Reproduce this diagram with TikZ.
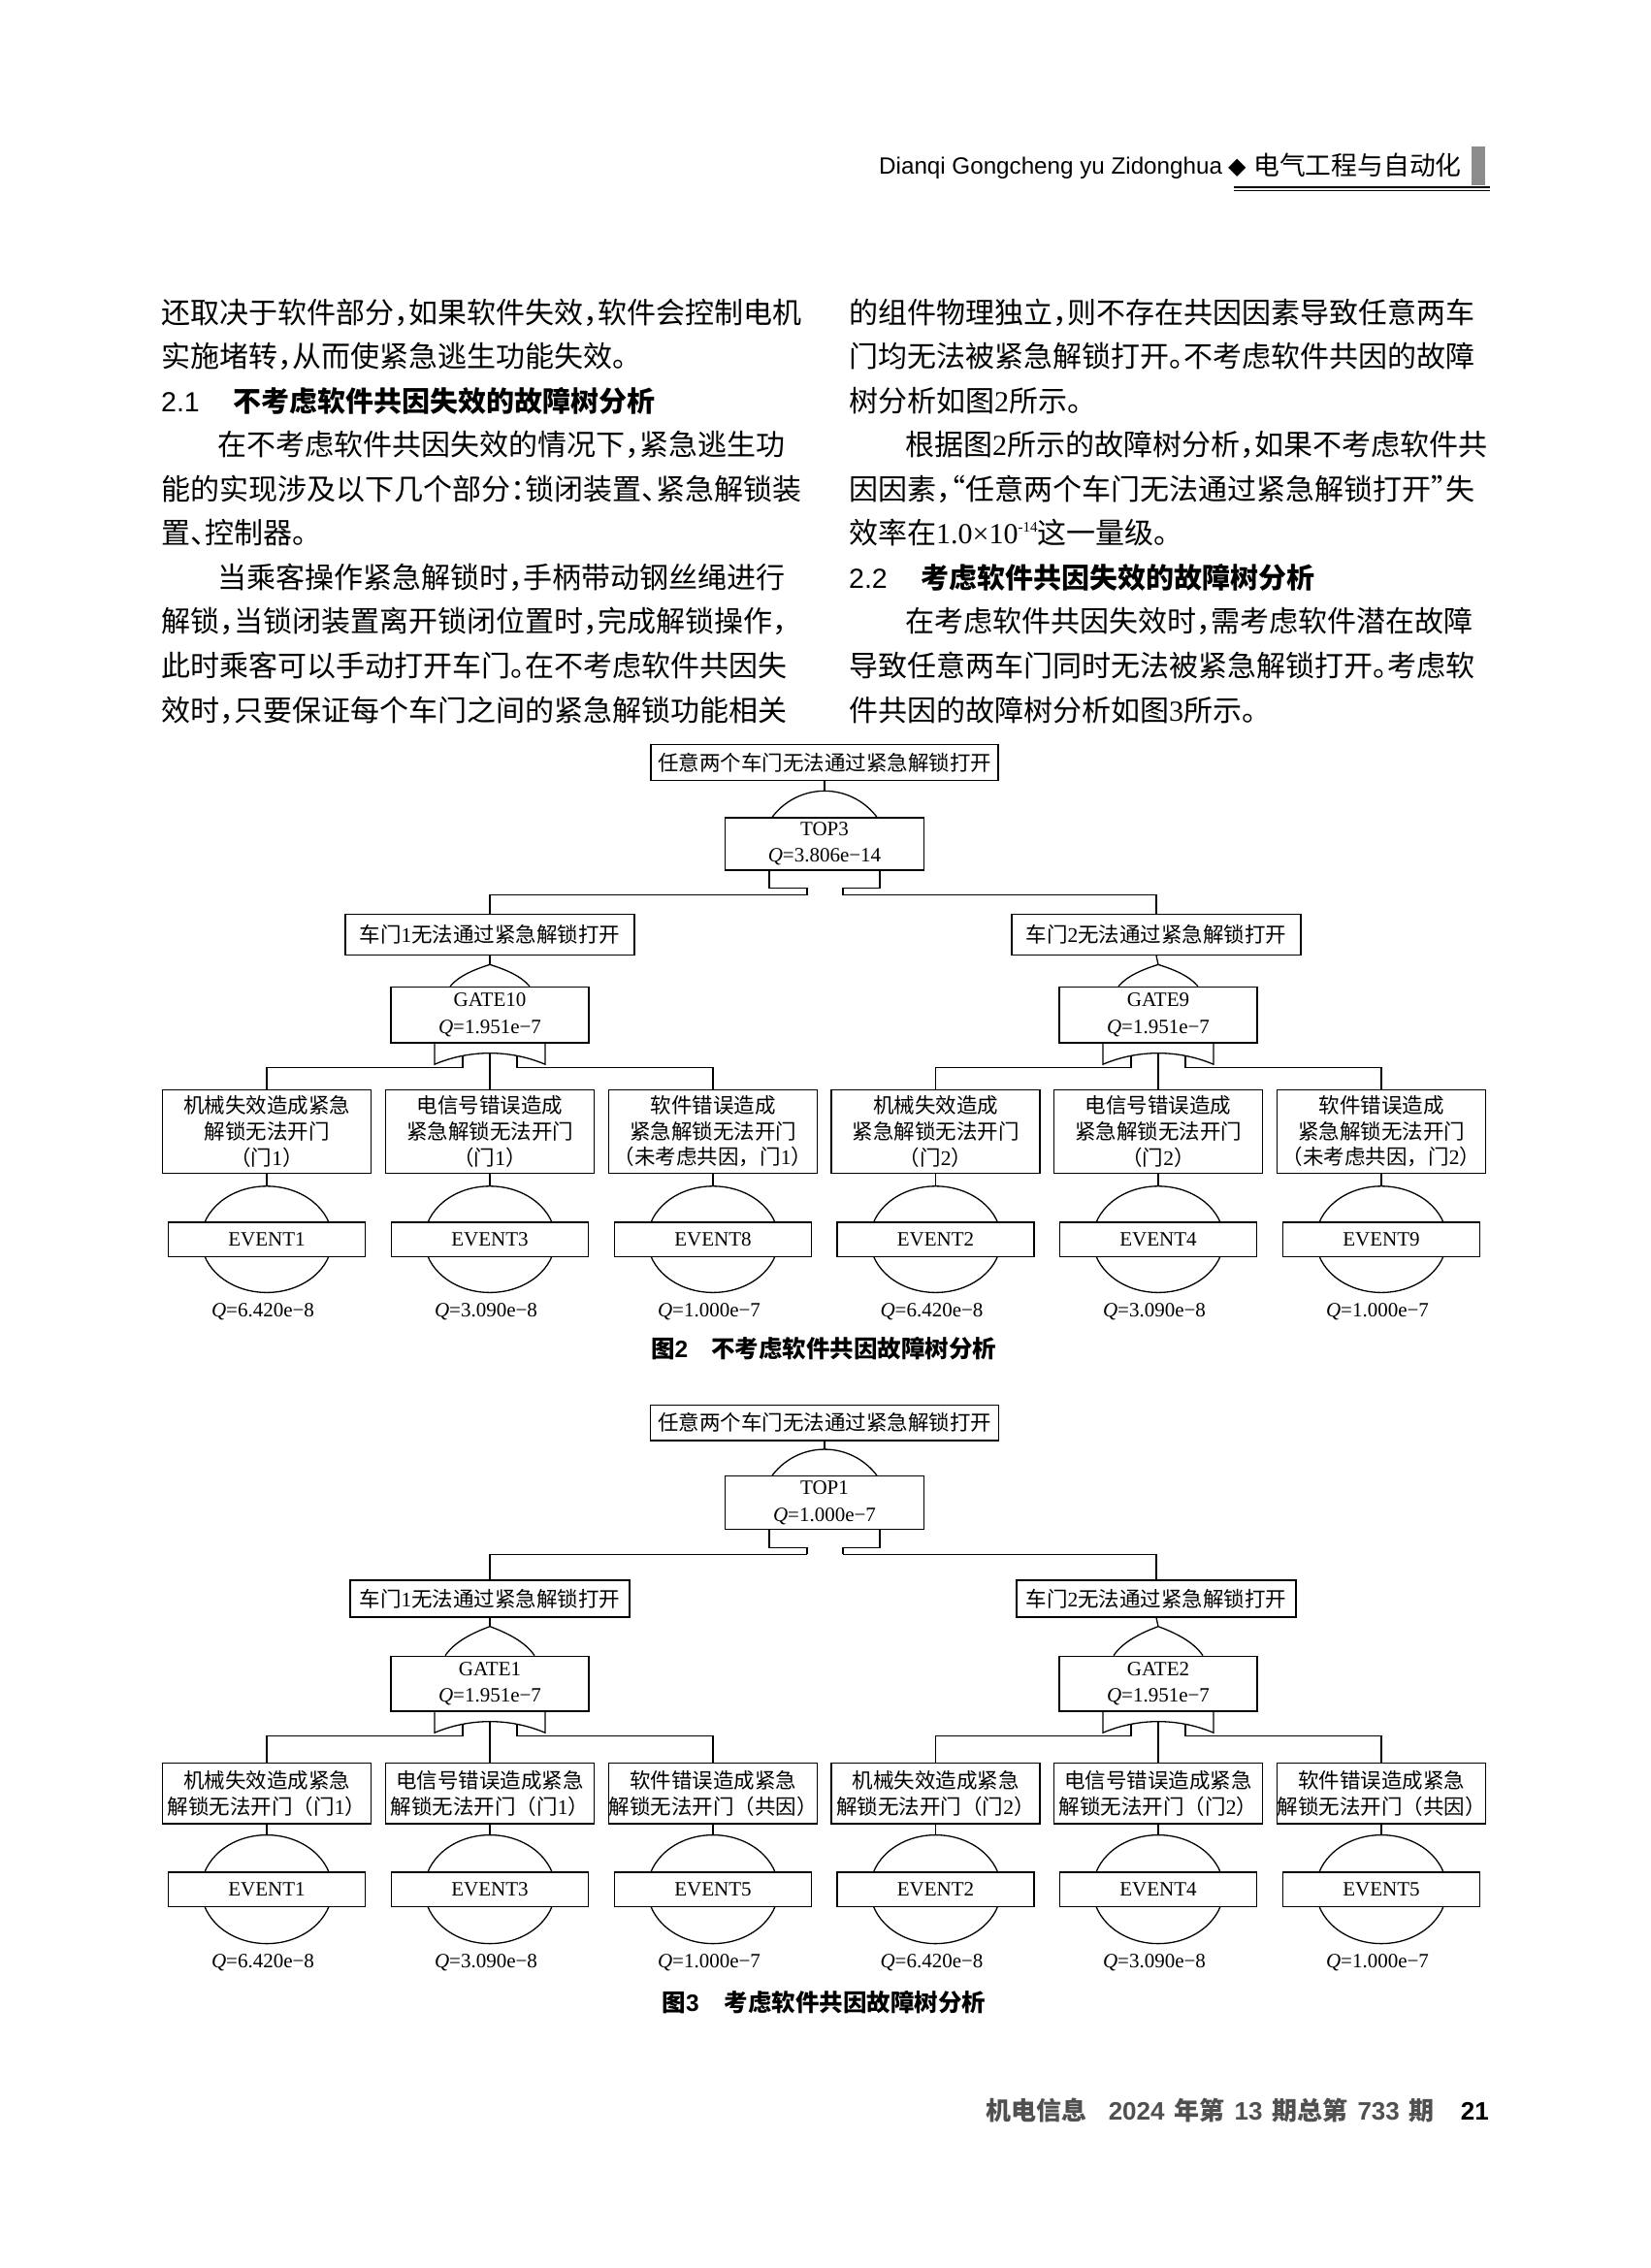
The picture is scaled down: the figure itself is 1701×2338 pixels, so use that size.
\documentclass[tikz,border=0pt]{standalone}
\usepackage{fontspec}
\setmainfont{Liberation Serif}
\newfontfamily\cjkfam[RawFeature=+halt]{Noto Sans CJK SC}
\newfontfamily\dcjkfam{Noto Sans CJK SC}
\newfontfamily\sansfam{Liberation Sans}
\newfontfamily\symfam{DejaVu Sans}
\usetikzlibrary{calc,shapes.geometric}
\XeTeXlinebreaklocale "zh"
\XeTeXlinebreakskip=0pt plus 4pt
\definecolor{bargray}{HTML}{8C8C8C}
\definecolor{footgray}{HTML}{505050}
\newcommand\bodyf{\cjkfam\fontsize{30}{45}\selectfont}
\newcommand\headf{\cjkfam\bfseries\fontsize{29}{35}\selectfont}
\newcommand\dfont{\dcjkfam\fontsize{21.5}{26.7}\selectfont}
\newcommand\lfont{\rmfamily\fontsize{21}{27.3}\selectfont}
\newcommand\capf{\dcjkfam\bfseries\fontsize{24.5}{30}\selectfont}
\newcommand\dg[1]{{\rmfamily #1}}
\newcommand\jl[2]{\hbox to #1pt{#2}}
\tikzset{
  ln/.style={line width=1.3pt},
  dbox/.style={draw, line width=1.3pt, rectangle, inner sep=0pt, align=center, fill=white},
  evt/.style={draw, line width=1.3pt, ellipse, inner sep=0pt, minimum width=135pt},
  txt/.style={anchor=base west, inner sep=0pt},
}
% OR gate top (pointed dome) above node #1: half width #2, height #3
\newcommand\ordome[3]{%
  \draw[ln] ($(#1.north)+(-#2,0)$) .. controls ($(#1.north)+(-0.78*#2,-0.5*#3)$) and ($(#1.north)+(-0.35*#2,-0.8*#3)$) .. ($(#1.north)+(0,-#3)$)
     .. controls ($(#1.north)+(0.35*#2,-0.8*#3)$) and ($(#1.north)+(0.78*#2,-0.5*#3)$) .. ($(#1.north)+(#2,0)$);}
% OR gate bottom (concave arc) below node #1
\newcommand\orbot[1]{%
  \draw[ln] ($(#1.south)+(-57,0)$) -- ++(0,21.5) arc[start angle=247.19, end angle=292.81, radius=147] -- ++(0,-21.5);
  \coordinate (#1l) at ($(#1.south)+(-28,25)$);
  \coordinate (#1m) at ($(#1.south)+(0,10)$);
  \coordinate (#1r) at ($(#1.south)+(28,25)$);
  \draw[ln] ($(#1.south)+(-28,12.7)$) -- (#1l);
  \draw[ln] ($(#1.south)+(28,12.7)$) -- (#1r);}
% AND gate top (arc) and bottom (tab) around node #1
\newcommand\andgate[1]{%
  \draw[ln] ($(#1.north)+(-54,0)$) arc[start angle=216.87, end angle=323.13, radius=67.5];
  \coordinate (#1ap) at ($(#1.north)+(0,-27)$);
  \coordinate (#1l) at ($(#1.south)+(-18,25)$);
  \coordinate (#1r) at ($(#1.south)+(19,25)$);
  \draw[ln] ($(#1.south)+(-57,0)$) |- ($(#1.south)+(-18,18)$) -- (#1l);
  \draw[ln] ($(#1.south)+(57,0)$) |- ($(#1.south)+(19,18)$) -- (#1r);}
\begin{document}
\begin{tikzpicture}[x=1pt,y=-1pt]
\fill[white] (0,0) rectangle (1701,2338);
\path[use as bounding box] (0,0) rectangle (1701,2338);

% ---------- header ----------
\node[txt, font=\sansfam\fontsize{24.2}{24}\selectfont] (hlat) at (906,179.5) {Dianqi Gongcheng yu Zidonghua};
\node[txt, font=\symfam\fontsize{24}{24}\selectfont] (hdia) at (1266,179.5) {◆};
\node[txt, font=\dcjkfam\fontsize{26.8}{27}\selectfont] (hcjk) at (1292,180.5) {电气工程与自动化};
\fill[bargray] (1517,150.7) rectangle (1531,190.7);
\draw[line width=2.4pt] (1272,192.8) -- (1536,192.8);
\draw[line width=1pt] (1272,196.8) -- (1536,196.8);

% ---------- left column ----------
\node[txt, font=\bodyf] (l1) at (166,333) {\jl{660}{还取决于软件部分，如果软件失效，软件会控制电机}};
\node[txt, font=\bodyf] (l2) at (166,378.6) {实施堵转，从而使紧急逃生功能失效。};
\node[txt, font=\sansfam\fontsize{28.5}{28}\selectfont] (l3a) at (166,424.1) {2.1};
\node[txt, font=\headf] (l3b) at (240,424.1) {不考虑软件共因失效的故障树分析};
\node[txt, font=\bodyf] (l4) at (224,469.7) {\jl{602}{在不考虑软件共因失效的情况下，紧急逃生功}};
\node[txt, font=\bodyf] (l5) at (166,515.2) {\jl{660}{能的实现涉及以下几个部分：锁闭装置、紧急解锁装}};
\node[txt, font=\bodyf] (l6) at (166,560.8) {置、控制器。};
\node[txt, font=\bodyf] (l7) at (224,606.4) {\jl{602}{当乘客操作紧急解锁时，手柄带动钢丝绳进行}};
\node[txt, font=\bodyf] (l8) at (166,651.9) {\jl{660}{解锁，当锁闭装置离开锁闭位置时，完成解锁操作，}};
\node[txt, font=\bodyf] (l9) at (166,697.5) {\jl{660}{此时乘客可以手动打开车门。在不考虑软件共因失}};
\node[txt, font=\bodyf] (l10) at (166,743) {\jl{660}{效时，只要保证每个车门之间的紧急解锁功能相关}};

% ---------- right column ----------
\node[txt, font=\bodyf] (r1) at (875,333) {\jl{660}{的组件物理独立，则不存在共因因素导致任意两车}};
\node[txt, font=\bodyf] (r2) at (875,378.6) {\jl{660}{门均无法被紧急解锁打开。不考虑软件共因的故障}};
\node[txt, font=\bodyf] (r3) at (875,424.1) {树分析如图\dg{2}所示。};
\node[txt, font=\bodyf] (r4) at (933,469.7) {\jl{602}{根据图\dg{2}所示的故障树分析，如果不考虑软件共}};
\node[txt, font=\bodyf] (r5) at (875,515.2) {\jl{660}{因因素，“任意两个车门无法通过紧急解锁打开”失}};
\node[txt, font=\bodyf] (r6) at (875,560.8) {效率在\dg{1.0×10\raisebox{12pt}{\fontsize{15}{15}\selectfont -14}}这一量级。};
\node[txt, font=\sansfam\fontsize{28.5}{28}\selectfont] (r7a) at (875,606.4) {2.2};
\node[txt, font=\headf] (r7b) at (949,606.4) {考虑软件共因失效的故障树分析};
\node[txt, font=\bodyf] (r8) at (933,651.9) {\jl{602}{在考虑软件共因失效时，需考虑软件潜在故障}};
\node[txt, font=\bodyf] (r9) at (875,697.5) {\jl{660}{导致任意两车门同时无法被紧急解锁打开。考虑软}};
\node[txt, font=\bodyf] (r10) at (875,743) {件共因的故障树分析如图\dg{3}所示。};

% ================= Figure 2 =================
\node[dbox, minimum width=358pt, minimum height=37.5pt, font=\dfont] (f2top) at (850,786) {任意两个车门无法通过紧急解锁打开};
\node[dbox, minimum width=205pt, minimum height=54pt, font=\lfont] (f2g0) at (850,870) {TOP3\\\textit{Q}=3.806e−14};
\andgate{f2g0}
\draw[ln] (f2top.south) -- (f2g0ap);

\node[dbox, minimum width=298pt, minimum height=42pt, font=\dfont] (f2d1) at (505,963.5) {车门\dg{1}无法通过紧急解锁打开};
\node[dbox, minimum width=298pt, minimum height=42pt, font=\dfont] (f2d2) at (1192,963.5) {车门\dg{2}无法通过紧急解锁打开};
\draw[ln] (f2g0l) -| (f2d1.north);
\draw[ln] (f2g0r) -| (f2d2.north);

\node[dbox, minimum width=204pt, minimum height=57.5pt, font=\lfont] (f2g1) at (505,1046.25) {GATE10\\\textit{Q}=1.951e−7};
\node[dbox, minimum width=204pt, minimum height=57.5pt, font=\lfont] (f2g2) at (1194,1046.25) {GATE9\\\textit{Q}=1.951e−7};
\ordome{f2g1}{41}{22.5}
\ordome{f2g2}{41}{22.5}
\coordinate (f2g1ap) at ($(f2g1.north)+(0,-22.5)$);
\coordinate (f2g2ap) at ($(f2g2.north)+(0,-22.5)$);
\draw[ln] (f2d1.south) -- (f2g1ap);
\draw[ln] (f2d2.south) -- (f2g2ap);
\orbot{f2g1}
\orbot{f2g2}

\node[dbox, minimum width=215pt, minimum height=86pt, font=\dfont] (f2c1) at (275,1166.3) {机械失效造成紧急\\解锁无法开门\\（门\dg{1}）};
\node[dbox, minimum width=215pt, minimum height=86pt, font=\dfont] (f2c2) at (505,1166.3) {电信号错误造成\\紧急解锁无法开门\\（门\dg{1}）};
\node[dbox, minimum width=215pt, minimum height=86pt, font=\dfont] (f2c3) at (735,1166.3) {软件错误造成\\紧急解锁无法开门\\（未考虑共因，门\dg{1}）};
\node[dbox, minimum width=215pt, minimum height=86pt, font=\dfont] (f2c4) at (964.5,1166.3) {机械失效造成\\紧急解锁无法开门\\（门\dg{2}）};
\node[dbox, minimum width=215pt, minimum height=86pt, font=\dfont] (f2c5) at (1194,1166.3) {电信号错误造成\\紧急解锁无法开门\\（门\dg{2}）};
\node[dbox, minimum width=215pt, minimum height=86pt, font=\dfont] (f2c6) at (1424,1166.3) {软件错误造成\\紧急解锁无法开门\\（未考虑共因，门\dg{2}）};
\draw[ln] (f2g1l) -| (f2c1.north);
\draw[ln] (f2g1m) -- (f2c2.north);
\draw[ln] (f2g1r) -| (f2c3.north);
\draw[ln] (f2g2l) -| (f2c4.north);
\draw[ln] (f2g2m) -- (f2c5.north);
\draw[ln] (f2g2r) -| (f2c6.north);

\foreach \i/\x/\ev/\q in {1/275/1/6.420e−8, 2/505/3/3.090e−8, 3/735/8/1.000e−7, 4/964.5/2/6.420e−8, 5/1194/4/3.090e−8, 6/1424/9/1.000e−7}{
  \node[evt, minimum height=109.6pt] (f2o\i) at (\x,1277.6) {};
  \node[dbox, minimum width=203pt, minimum height=35.5pt, font=\lfont] (f2e\i) at (\x,1277.6) {EVENT\ev};
  \draw[ln] (f2c\i.south) -- (f2o\i.north);
  \node[font=\lfont, inner sep=0pt] (f2q\i) at (\x-4,1352.5) {\textit{Q}=\q};
}
\node[txt, font=\capf] (cap2) at (671,1399) {图{\sansfam\bfseries 2}\hspace{24pt}不考虑软件共因故障树分析};

% ================= Figure 3 =================
\node[dbox, minimum width=359pt, minimum height=36.7pt, font=\dfont] (f3top) at (850,1466.7) {任意两个车门无法通过紧急解锁打开};
\node[dbox, minimum width=205pt, minimum height=55pt, font=\lfont] (f3g0) at (850,1549.2) {TOP1\\\textit{Q}=1.000e−7};
\andgate{f3g0}
\draw[ln] (f3top.south) -- (f3g0ap);

\node[dbox, minimum width=288pt, minimum height=38pt, font=\dfont] (f3d1) at (505,1648) {车门\dg{1}无法通过紧急解锁打开};
\node[dbox, minimum width=288pt, minimum height=38pt, font=\dfont] (f3d2) at (1192,1648) {车门\dg{2}无法通过紧急解锁打开};
\draw[ln] (f3g0l) -| (f3d1.north);
\draw[ln] (f3g0r) -| (f3d2.north);

\node[dbox, minimum width=204pt, minimum height=56.7pt, font=\lfont] (f3g1) at (505,1735.65) {GATE1\\\textit{Q}=1.951e−7};
\node[dbox, minimum width=204pt, minimum height=56.7pt, font=\lfont] (f3g2) at (1194,1735.65) {GATE2\\\textit{Q}=1.951e−7};
\ordome{f3g1}{46}{30}
\ordome{f3g2}{46}{30}
\coordinate (f3g1ap) at ($(f3g1.north)+(0,-30)$);
\coordinate (f3g2ap) at ($(f3g2.north)+(0,-30)$);
\draw[ln] (f3d1.south) -- (f3g1ap);
\draw[ln] (f3d2.south) -- (f3g2ap);
\orbot{f3g1}
\orbot{f3g2}

\node[dbox, minimum width=215pt, minimum height=62.7pt, font=\dfont] (f3c1) at (275,1848.7) {机械失效造成紧急\\解锁无法开门（门\dg{1}）};
\node[dbox, minimum width=215pt, minimum height=62.7pt, font=\dfont] (f3c2) at (505,1848.7) {电信号错误造成紧急\\解锁无法开门（门\dg{1}）};
\node[dbox, minimum width=215pt, minimum height=62.7pt, font=\dfont] (f3c3) at (735,1848.7) {软件错误造成紧急\\解锁无法开门（共因）};
\node[dbox, minimum width=215pt, minimum height=62.7pt, font=\dfont] (f3c4) at (964.5,1848.7) {机械失效造成紧急\\解锁无法开门（门\dg{2}）};
\node[dbox, minimum width=215pt, minimum height=62.7pt, font=\dfont] (f3c5) at (1194,1848.7) {电信号错误造成紧急\\解锁无法开门（门\dg{2}）};
\node[dbox, minimum width=215pt, minimum height=62.7pt, font=\dfont] (f3c6) at (1424,1848.7) {软件错误造成紧急\\解锁无法开门（共因）};
\draw[ln] (f3g1l) -| (f3c1.north);
\draw[ln] (f3g1m) -- (f3c2.north);
\draw[ln] (f3g1r) -| (f3c3.north);
\draw[ln] (f3g2l) -| (f3c4.north);
\draw[ln] (f3g2m) -- (f3c5.north);
\draw[ln] (f3g2r) -| (f3c6.north);

\foreach \i/\x/\ev/\q in {1/275/1/6.420e−8, 2/505/3/3.090e−8, 3/735/5/1.000e−7, 4/964.5/2/6.420e−8, 5/1194/4/3.090e−8, 6/1424/5/1.000e−7}{
  \node[evt, minimum height=112pt] (f3o\i) at (\x,1947.6) {};
  \node[dbox, minimum width=203pt, minimum height=35.5pt, font=\lfont] (f3e\i) at (\x,1947.6) {EVENT\ev};
  \draw[ln] (f3c\i.south) -- (f3o\i.north);
  \node[font=\lfont, inner sep=0pt] (f3q\i) at (\x-4,2022.7) {\textit{Q}=\q};
}
\node[txt, font=\capf] (cap3) at (682.5,2073) {图{\sansfam\bfseries 3}\hspace{26pt}考虑软件共因故障树分析};

% ---------- footer ----------
\node[anchor=base east, inner sep=0pt, font=\dcjkfam\bfseries\fontsize{26}{26}\selectfont] (foot) at (1535,2185)
  {\textcolor{footgray}{机电信息\hspace{22pt}{\sansfam\bfseries 2024}\hspace{10pt}年第\hspace{10pt}{\sansfam\bfseries 13}\hspace{10pt}期总第\hspace{10pt}{\sansfam\bfseries 733}\hspace{10pt}期}\hspace{27pt}{\sansfam 21}};
\end{tikzpicture}
\end{document}
